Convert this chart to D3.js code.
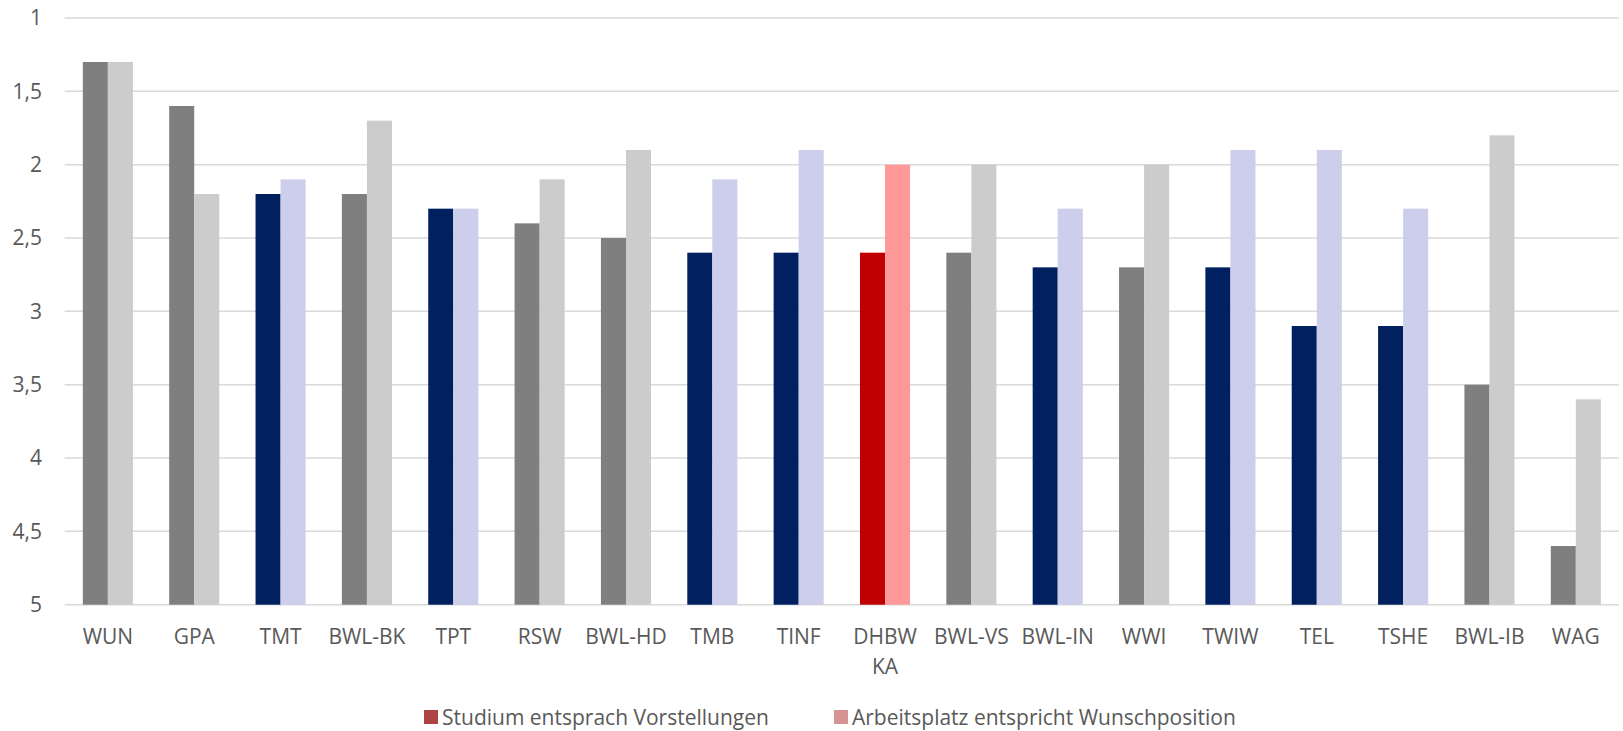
<!DOCTYPE html>
<html><head><meta charset="utf-8">
<script src="https://cdn.jsdelivr.net/npm/d3@7"></script>
<style>
html,body{margin:0;padding:0;background:#fff;}
svg text{font-family:"Open Sans",sans-serif;fill:#595959;}
</style></head>
<body><svg id="c" width="1623" height="731"></svg>
<script>
const categories = ["WUN","GPA","TMT","BWL-BK","TPT","RSW","BWL-HD","TMB","TINF","DHBW KA","BWL-VS","BWL-IN","WWI","TWIW","TEL","TSHE","BWL-IB","WAG"];
const studium = [1.3,1.6,2.2,2.2,2.3,2.4,2.5,2.6,2.6,2.6,2.6,2.7,2.7,2.7,3.1,3.1,3.5,4.6];
const arbeitsplatz = [1.3,2.2,2.1,1.7,2.3,2.1,1.9,2.1,1.9,2.0,2.0,2.3,2.0,1.9,1.9,2.3,1.8,3.6];
const groups = ["bwl","bwl","tech","bwl","tech","bwl","bwl","tech","tech","dhbw","bwl","tech","bwl","tech","tech","tech","bwl","bwl"];
const yTicks = [1,1.5,2,2.5,3,3.5,4,4.5,5];
const seriesNames = ["Studium entsprach Vorstellungen","Arbeitsplatz entspricht Wunschposition"];

const palette = {
  bwl: ["#7F7F7F","#CCCCCC"],
  tech: ["#002060","#CDCDEC"],
  dhbw: ["#C00000","#FF9999"]
};
const legendColors = ["#AD4343","#D59393"];

const svg = d3.select("#c");
const mLeft = 64.7, mRight = 1619, mTop = 18, mBottom = 604.7;
const fs = 21;

const y = d3.scaleLinear().domain([1,5]).range([mTop,mBottom]);
const x = d3.scaleBand().domain(categories).range([mLeft,mRight]).paddingInner(0.42).paddingOuter(0.21);
const xs = d3.scaleBand().domain([0,1]).range([0,x.bandwidth()]);

// gridlines
svg.append("g").selectAll("line").data(yTicks).join("line")
  .attr("x1",mLeft).attr("x2",mRight)
  .attr("y1",d=>y(d)).attr("y2",d=>y(d))
  .attr("stroke","#D9D9D9").attr("stroke-width",1.5);

// y axis labels
const yAxis = d3.axisLeft(y).tickValues(yTicks).tickSize(0).tickPadding(0)
  .tickFormat(d=>String(d).replace(".",","));
const ya = svg.append("g").attr("transform","translate(42,0)").call(yAxis);
ya.select(".domain").remove();
ya.selectAll("text").attr("font-size",fs).attr("fill","#595959").attr("font-family","'Open Sans',sans-serif");

// bars
const rows = categories.map((c,i)=>({c,i,vals:[studium[i],arbeitsplatz[i]],g:groups[i]}));
const grp = svg.append("g").selectAll("g").data(rows).join("g")
  .attr("transform",d=>`translate(${x(d.c)},0)`);
grp.selectAll("rect").data(d=>d.vals.map((v,k)=>({v,k,g:d.g}))).join("rect")
  .attr("x",d=>xs(d.k)).attr("width",xs.bandwidth())
  .attr("y",d=>y(d.v)).attr("height",d=>y(5)-y(d.v))
  .attr("fill",d=>palette[d.g][d.k]);

// x axis
const xAxis = d3.axisBottom(x).tickSize(0).tickPadding(0);
const xa = svg.append("g").attr("transform",`translate(0,${y(5)})`).call(xAxis);
xa.select(".domain").remove();
xa.selectAll("text").remove();
xa.selectAll(".tick").each(function(d){
  const parts = d.split(" ");
  const t = d3.select(this).append("text").attr("text-anchor","middle")
    .attr("font-size",fs).attr("fill","#595959").attr("font-family","'Open Sans',sans-serif");
  parts.forEach((p,j)=>t.append("tspan").attr("x",0).attr("y",39 + j*30).text(p));
});

// legend
const lg = svg.append("g");
const lx = [424,834];
seriesNames.forEach((n,k)=>{
  lg.append("rect").attr("x",lx[k]).attr("y",710).attr("width",14).attr("height",14).attr("fill",legendColors[k]);
  lg.append("text").attr("x",lx[k]+18).attr("y",725).attr("font-size",fs).text(n);
});
</script></body></html>
